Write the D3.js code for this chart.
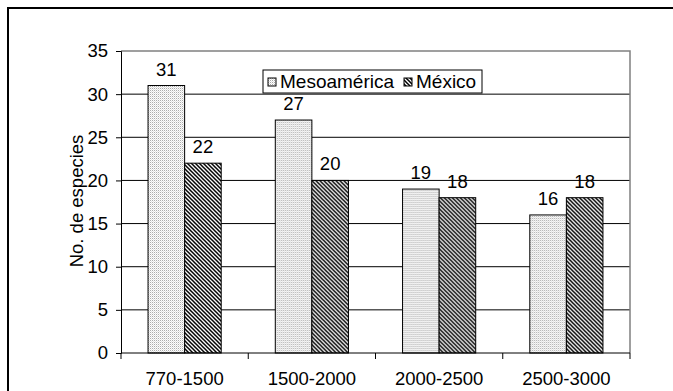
<!DOCTYPE html>
<html><head><meta charset="utf-8">
<script src="https://cdn.jsdelivr.net/npm/d3@7"></script>
<style>body{margin:0;background:#fff}svg{display:block;font-family:"Liberation Sans",Arial,sans-serif}</style>
</head><body>
<svg id="c" width="673" height="391"></svg>
<script>
const categories = ["770-1500","1500-2000","2000-2500","2500-3000"];
const seriesNames = ["Mesoamérica","México"];
const mesoamerica = [31,27,19,16];
const mexico = [22,20,18,18];
const yTicks = [0,5,10,15,20,25,30,35];

const FS = 18.5;
const svg = d3.select("#c");
const defs = svg.append("defs");
const p1 = defs.append("pattern").attr("id","dots").attr("patternUnits","userSpaceOnUse").attr("width",2).attr("height",2);
p1.append("rect").attr("width",2).attr("height",2).attr("fill","#fff");
p1.append("rect").attr("width",1).attr("height",1).attr("fill","#a8a8a8");
p1.append("rect").attr("x",1).attr("y",1).attr("width",1).attr("height",1).attr("fill","#e0e0e0");
const p2 = defs.append("pattern").attr("id","hatch").attr("patternUnits","userSpaceOnUse").attr("width",4).attr("height",4);
p2.append("rect").attr("width",4).attr("height",4).attr("fill","#fff");
p2.append("path").attr("d","M-1,-1 L5,5 M3,-1 L5,1 M-1,3 L1,5").attr("stroke","#000").attr("stroke-width",1.5);
const fills = ["url(#dots)","url(#hatch)"];

// outer frame
svg.append("rect").attr("x",8).attr("y",8).attr("width",700).attr("height",420).attr("fill","none").attr("stroke","#000").attr("stroke-width",2);

const L=121, R=630, T=51, B=353;
const x = d3.scaleBand().domain(categories).range([L,R]).paddingInner(0.425).paddingOuter(0.2125);
const xs = d3.scaleBand().domain(seriesNames).range([0,x.bandwidth()]);
const y = d3.scaleLinear().domain([0,35]).range([B,T]);

// gridlines
svg.append("g").selectAll("line").data(yTicks.filter(d=>d>0&&d<35)).join("line")
  .attr("x1",L).attr("x2",R).attr("y1",d=>y(d)).attr("y2",d=>y(d)).attr("stroke","#000").attr("stroke-width",1);
// plot border (top/right)
svg.append("path").attr("d",`M${L},${T}H${R}V${B}`).attr("fill","none").attr("stroke","#808080").attr("stroke-width",1.5);

const data = categories.map((c,i)=>({c, vals:[mesoamerica[i], mexico[i]]}));
const g = svg.append("g").selectAll("g").data(data).join("g").attr("transform",d=>`translate(${x(d.c)},0)`);
g.selectAll("rect").data(d=>d.vals.map((v,j)=>({v,s:seriesNames[j],j}))).join("rect")
  .attr("x",d=>xs(d.s)).attr("y",d=>y(d.v)).attr("width",xs.bandwidth()).attr("height",d=>B-y(d.v))
  .attr("fill",d=>fills[d.j]).attr("stroke","#000").attr("stroke-width",1);
g.selectAll("text").data(d=>d.vals.map((v,j)=>({v,s:seriesNames[j]}))).join("text")
  .attr("x",d=>xs(d.s)+xs.bandwidth()/2).attr("y",d=>y(d.v)-10).attr("text-anchor","middle")
  .attr("font-size",FS).text(d=>d.v);

// y axis
const ya = d3.axisLeft(y).tickValues(yTicks).tickSize(5).tickPadding(8);
const yg = svg.append("g").attr("transform",`translate(${L},0)`).call(ya);
yg.select(".domain").attr("stroke","#000");
yg.selectAll("text").attr("font-size",FS).attr("font-family","Liberation Sans, Arial, sans-serif").attr("fill","#000");
// x axis
svg.append("line").attr("x1",L).attr("x2",R).attr("y1",B).attr("y2",B).attr("stroke","#000").attr("stroke-width",1);
const boundaries = categories.map(c=>x(c)-x.step()*x.paddingInner()/2);
svg.append("g").selectAll("line").data(boundaries.concat([R])).join("line")
  .attr("x1",d=>d).attr("x2",d=>d).attr("y1",B).attr("y2",B+6).attr("stroke","#000");
svg.append("g").selectAll("text").data(categories).join("text")
  .attr("x",d=>x(d)+x.bandwidth()/2).attr("y",385).attr("text-anchor","middle").attr("font-size",FS).text(d=>d);

// y title
svg.append("text").attr("transform","translate(83,201) rotate(-90)").attr("text-anchor","middle").attr("font-size",FS).text("No. de especies");

// legend
const lg = svg.append("g");
lg.append("rect").attr("x",263).attr("y",70).attr("width",219).attr("height",23).attr("fill","#fff").attr("stroke","#000");
const items = [{s:seriesNames[0],x:268,f:fills[0]},{s:seriesNames[1],x:404,f:fills[1]}];
items.forEach(it=>{
  lg.append("rect").attr("x",it.x).attr("y",78).attr("width",8).attr("height",8).attr("fill",it.f).attr("stroke","#000");
  lg.append("text").attr("x",it.x+12).attr("y",88).attr("font-size",19).text(it.s);
});
</script>
</body></html>
